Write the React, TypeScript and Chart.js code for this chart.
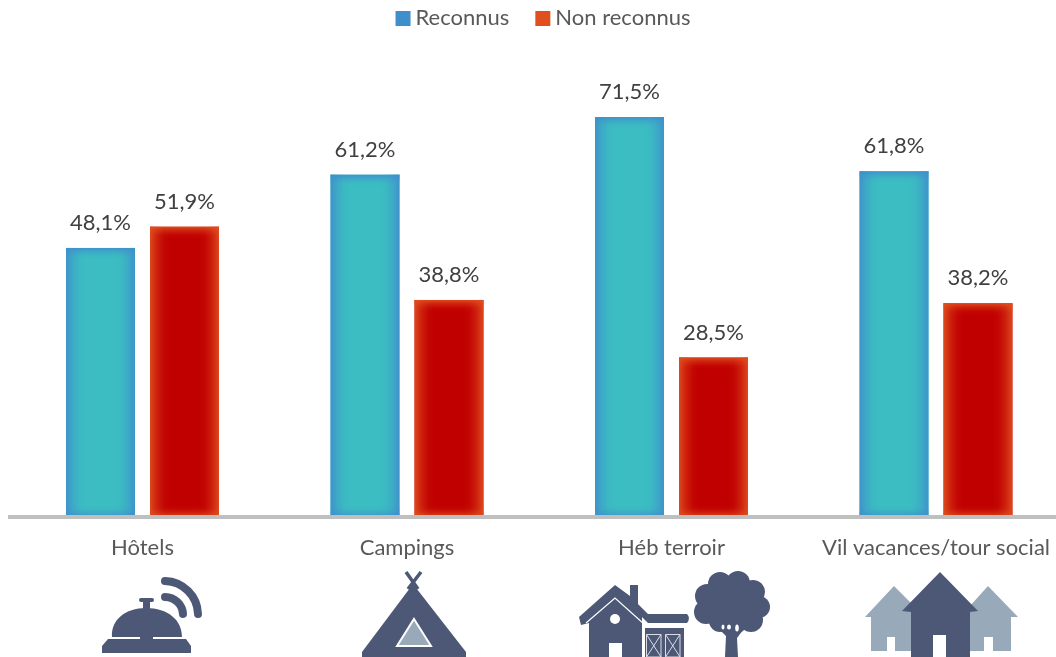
import React, { useEffect, useRef } from "react";
import { Chart, registerables } from "chart.js";

Chart.register(...registerables);

const categories = ["Hôtels", "Campings", "Héb terroir", "Vil vacances/tour social"];
const reconnus = [48.1, 61.2, 71.5, 61.8];
const nonReconnus = [51.9, 38.8, 28.5, 38.2];
const seriesNames = ["Reconnus", "Non reconnus"];

const FONT = "Lato, Carlito, sans-serif";
const TEAL = "#3BBDC2";
const BLUE_EDGE = "#3F8FCB";
const RED = "#C00000";
const ORANGE_EDGE = "#E0501F";
const NAVY = "#4D5877";
const SLATE = "#98A9BA";

function edgeOverlay(ctx: CanvasRenderingContext2D, x: number, y: number, w: number, h: number, color: string) {
  const depth = 20;
  const vDepth = 12;
  const sides: [number, number, number, number, number, number, number, number][] = [
    [x, y, x + depth, y, x, y, depth, h],
    [x + w, y, x + w - depth, y, x + w - depth, y, depth, h],
    [x, y, x, y + vDepth, x, y, w, vDepth],
    [x, y + h, x, y + h - vDepth, x, y + h - vDepth, w, vDepth],
  ];
  for (const [x0, y0, x1, y1, rx, ry, rw, rh] of sides) {
    const g = ctx.createLinearGradient(x0, y0, x1, y1);
    g.addColorStop(0, color + "E6");
    g.addColorStop(0.35, color + "66");
    g.addColorStop(0.7, color + "14");
    g.addColorStop(1, color + "00");
    ctx.fillStyle = g;
    ctx.fillRect(rx, ry, rw, rh);
  }
}

const barDecor = {
  id: "barDecor",
  afterDatasetsDraw(chart: any) {
    const ctx: CanvasRenderingContext2D = chart.ctx;
    chart.data.datasets.forEach((ds: any, di: number) => {
      chart.getDatasetMeta(di).data.forEach((bar: any, i: number) => {
        const left = bar.x - bar.width / 2;
        const h = bar.base - bar.y;
        ctx.save();
        edgeOverlay(ctx, left, bar.y, bar.width, h, ds.edgeColor);
        ctx.fillStyle = "#404040";
        ctx.font = `22px ${FONT}`;
        ctx.textAlign = "center";
        ctx.textBaseline = "middle";
        ctx.fillText(ds.data[i].toFixed(1).replace(".", ",") + "%", bar.x, bar.y - 25);
        ctx.restore();
      });
    });
  },
};

const topLegend = {
  id: "topLegend",
  afterDraw(chart: any) {
    const ctx: CanvasRenderingContext2D = chart.ctx;
    const box = 15;
    const textGap = 5;
    const itemGap = 26;
    ctx.save();
    ctx.font = `22px ${FONT}`;
    ctx.textBaseline = "middle";
    const names: string[] = chart.data.datasets.map((d: any) => d.label);
    const widths = names.map((n) => ctx.measureText(n).width);
    const total = widths.reduce((a, w) => a + w + box + textGap, 0) + itemGap * (names.length - 1);
    let x = 543 - total / 2;
    names.forEach((n, i) => {
      ctx.fillStyle = chart.data.datasets[i].edgeColor;
      ctx.fillRect(x, 11, box, box);
      ctx.fillStyle = "#595959";
      ctx.fillText(n, x + box + textGap, 18);
      x += box + textGap + widths[i] + itemGap;
    });
    ctx.restore();
  },
};

function Icons() {
  const scallops: [number, number, number][] = [
    [720, 584, 12], [738, 583, 12], [753, 592, 12], [759, 607, 11], [751, 620, 12],
    [735, 622, 12], [720, 621, 11], [706, 612, 12], [707, 596, 12], [732, 603, 24],
  ];
  return (
    <svg width={1056} height={657} style={{ position: "absolute", left: 0, top: 0, pointerEvents: "none" }}>
      {/* bell */}
      <g fill={NAVY}>
        <path d="M102 646 L108 639 L140 639 L140 637 L112 637 C111 620 125 608 146 608 C168 608 182 620 182 637 L153 637 L153 639 L186 639 L191 646 L191 653 L102 653 Z" />
        <rect x={143} y={601} width={7} height={8} />
        <rect x={139} y={598} width={15} height={4} rx={2} />
      </g>
      <g fill="none" stroke={NAVY} strokeWidth={8} strokeLinecap="round">
        <path d="M165 581 A34 34 0 0 1 198 614" />
        <path d="M165 597 A18 18 0 0 1 183 614" />
      </g>
      {/* tent */}
      <g stroke={NAVY} strokeWidth={3.5} fill="none">
        <path d="M406 572 L418 589 M421 572 L408 589" />
      </g>
      <path d="M413 584 L466 652 L466 657 L362 657 L362 652 Z" fill={NAVY} />
      <path d="M414 619 L431 646 L397 646 Z" fill={SLATE} stroke="#FFFFFF" strokeWidth={2} />
      {/* farm */}
      <path d="M615 585 L630 596 L630 585 L638 585 L638 604 L648 614 L687 614 Q691 618 687 623 L648 623 L642 617 L642 657 L589 657 L589 623 L581 625 L579 617 Z" fill={NAVY} />
      <path d="M586 623 L615 598 L644 624" fill="none" stroke="#FFFFFF" strokeWidth={1.2} />
      <circle cx={615} cy={619} r={5} fill="#FFFFFF" />
      <rect x={609} y={643} width={13} height={14} fill="#FFFFFF" />
      <rect x={645} y={628} width={39} height={29} fill={NAVY} />
      <g fill="none" stroke="#D8DCE4" strokeWidth={1}>
        <path d="M646.5 634.5 H661 V657 H646.5 Z M646.5 634.5 L661 657 M661 634.5 L646.5 657" />
        <path d="M665.5 634.5 H680 V657 H665.5 Z M665.5 634.5 L680 657 M680 634.5 L665.5 657" />
      </g>
      {/* tree */}
      <g fill={NAVY}>
        {scallops.map(([cx, cy, r], i) => (
          <circle key={i} cx={cx} cy={cy} r={r} />
        ))}
        <path d="M725 657 L726 636 L716 626 L746 626 L737 638 L738 657 Z" />
      </g>
      <g fill="#FFFFFF">
        <ellipse cx={723} cy={627} rx={1.5} ry={2.5} />
        <ellipse cx={729} cy={627} rx={2} ry={2.5} />
        <ellipse cx={737} cy={628} rx={1.8} ry={3.5} />
      </g>
      {/* holiday village */}
      <g fill={SLATE}>
        <path d="M894 586 L925 617 L911 651 L871 651 L871 617 L865 617 Z" />
        <path d="M988 586 L1018 617 L1011 617 L1011 651 L970 651 L960 617 Z" />
      </g>
      <rect x={887} y={637} width={8} height={14} fill="#FFFFFF" />
      <rect x={984} y={637} width={9} height={14} fill="#FFFFFF" />
      <path d="M940 572 L978 611 L970 612 L970 657 L911 657 L911 612 L902 611 Z" fill={NAVY} />
      <rect x={933} y={635} width={13} height={22} fill="#FFFFFF" />
    </svg>
  );
}

export default function App() {
  const ref = useRef<HTMLCanvasElement | null>(null);
  useEffect(() => {
    if (!ref.current) return;
    const chart = new Chart(ref.current, {
      type: "bar",
      data: {
        labels: categories,
        datasets: [
          { label: seriesNames[0], data: reconnus, backgroundColor: TEAL, edgeColor: BLUE_EDGE },
          { label: seriesNames[1], data: nonReconnus, backgroundColor: RED, edgeColor: ORANGE_EDGE },
        ] as any,
      },
      options: {
        responsive: false,
        animation: false,
        categoryPercentage: 0.635,
        barPercentage: 0.821,
        layout: { padding: { left: 10.25, right: 17.75, top: 69.5, bottom: 0 } },
        plugins: { legend: { display: false }, tooltip: { enabled: false } },
        scales: {
          x: {
            afterFit: (s: any) => {
              s.height = 140;
            },
            grid: { display: false },
            border: { color: "#BFBFBF", width: 4, z: 1 },
            ticks: { color: "#595959", font: { family: FONT, size: 22 }, padding: 10, maxRotation: 0, autoSkip: false },
          },
          y: { display: false, min: 0, max: 80 },
        },
      } as any,
      plugins: [barDecor, topLegend],
    });
    return () => chart.destroy();
  }, []);
  return (
    <div style={{ position: "absolute", left: 0, top: 0, width: 1056, height: 657, overflow: "hidden", background: "#fff" }}>
      <canvas ref={ref} width={1086} height={657} style={{ display: "block" }} />
      <Icons />
    </div>
  );
}
